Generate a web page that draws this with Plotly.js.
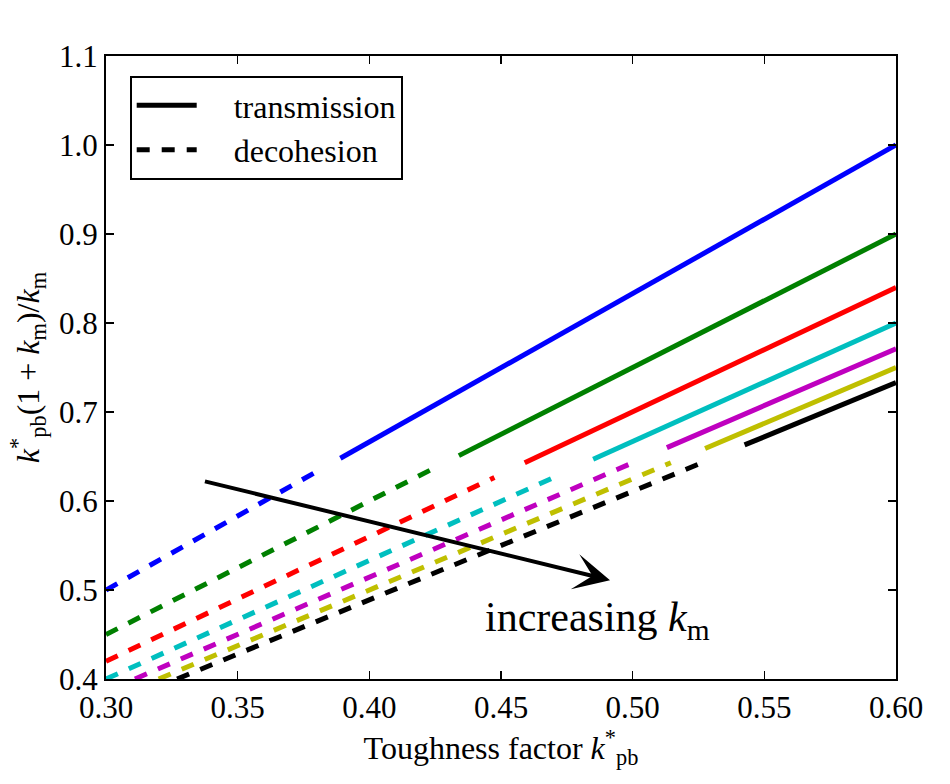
<!DOCTYPE html>
<html>
<head>
<meta charset="utf-8">
<script src="https://cdn.plot.ly/plotly-3.0.1.min.js"></script>
<style>
  html, body { margin: 0; padding: 0; background: #ffffff; }
  #chart { width: 950px; height: 784px; }
</style>
</head>
<body>
<div id="chart"></div>
<script>
// Matrix stiffness ratios, one curve each (classic b, g, r, c, m, y, k palette)
const kmValues   = [1.5, 2.0, 2.5, 3.0, 3.5, 4.0, 4.5];
const lineColors = ['#0000ff', '#008000', '#ff0000', '#00bfbf', '#bf00bf', '#bfbf00', '#000000'];

// Decohesion branch (dashed): start and end points of each curve
const decohesionX0 = [0.300, 0.300, 0.300, 0.300, 0.311, 0.320, 0.327];
const decohesionY0 = [0.500, 0.450, 0.420, 0.400, 0.400, 0.400, 0.400];
const decohesionX1 = [0.380, 0.425, 0.4475, 0.472, 0.500, 0.5145, 0.528];
const decohesionY1 = [0.633, 0.6375, 0.6265, 0.629, 0.643, 0.643, 0.645];

// Transmission branch (solid): start and end points of each curve
const transmissionX0 = [0.389, 0.434, 0.459, 0.485, 0.513, 0.5275, 0.5425];
const transmissionY0 = [0.648, 0.651, 0.643, 0.647, 0.660, 0.659, 0.663];
const transmissionX1 = [0.600, 0.600, 0.600, 0.600, 0.600, 0.600, 0.600];
const transmissionY1 = [1.000, 0.900, 0.840, 0.800, 0.771, 0.750, 0.733];

// Axis ticks
const xTickVals = [0.30, 0.35, 0.40, 0.45, 0.50, 0.55, 0.60];
const xTickText = ['0.30', '0.35', '0.40', '0.45', '0.50', '0.55', '0.60'];
const yTickVals = [0.4, 0.5, 0.6, 0.7, 0.8, 0.9, 1.0, 1.1];
const yTickText = ['0.4', '0.5', '0.6', '0.7', '0.8', '0.9', '1.0', '1.1'];

// Legend entries
const legendNames  = ['transmission', 'decohesion'];
const legendDashes = ['solid', '13px,12px'];

// Arrow showing the trend with k_m
const arrowTail = [0.337, 0.6225];
const arrowHead = [0.4914, 0.511];
const trendLabel = 'increasing <i>k</i><sub>m</sub>';
const trendLabelPos = [0.4868, 0.466];

const FONT = 'Liberation Serif, Times New Roman, serif';
const LW = 5;
const DASH = '13px,12px';
const PAD = '\u00a0\u00a0\u00a0\u00a0';

const traces = [];
kmValues.forEach((km, i) => {
  traces.push({
    x: [decohesionX0[i], decohesionX1[i]],
    y: [decohesionY0[i], decohesionY1[i]],
    mode: 'lines',
    line: { color: lineColors[i], width: LW, dash: DASH },
    showlegend: false,
    hoverinfo: 'skip'
  });
  traces.push({
    x: [transmissionX0[i], transmissionX1[i]],
    y: [transmissionY0[i], transmissionY1[i]],
    mode: 'lines',
    line: { color: lineColors[i], width: LW },
    showlegend: false,
    hoverinfo: 'skip'
  });
});

// Black legend-only entries
legendNames.forEach((name, i) => {
  traces.push({
    x: [null], y: [null],
    mode: 'lines',
    name: PAD + name,
    line: { color: '#000000', width: LW, dash: legendDashes[i] },
    showlegend: true
  });
});

const axisCommon = {
  showline: true,
  linecolor: '#000000',
  linewidth: 2,
  mirror: 'allticks',
  ticks: 'inside',
  ticklen: 8,
  tickwidth: 1.2,
  tickcolor: '#000000',
  showgrid: false,
  zeroline: false,
  tickfont: { family: FONT, size: 31, color: '#000000' },
  tickmode: 'array'
};

const layout = {
  width: 950,
  height: 784,
  margin: { l: 106, r: 54, t: 56, b: 105 },
  paper_bgcolor: '#ffffff',
  plot_bgcolor: '#ffffff',
  font: { family: FONT, color: '#000000' },
  xaxis: Object.assign({}, axisCommon, {
    range: [0.30, 0.60],
    tickvals: xTickVals,
    ticktext: xTickText,
    title: {
      text: 'Toughness factor <i>k</i><sup>*</sup><sub>pb</sub>',
      font: { family: FONT, size: 32, color: '#000000' },
      standoff: 4
    }
  }),
  yaxis: Object.assign({}, axisCommon, {
    range: [0.4, 1.1],
    tickvals: yTickVals,
    ticktext: yTickText,
    title: {
      text: '<i>k</i><sup>*</sup><sub>pb</sub>(1 + <i>k</i><sub>m</sub>)/<i>k</i><sub>m</sub>',
      font: { family: FONT, size: 32, color: '#000000' },
      standoff: 10
    }
  }),
  showlegend: true,
  legend: {
    x: 0.03,
    y: 0.968,
    xanchor: 'left',
    yanchor: 'top',
    bgcolor: '#ffffff',
    bordercolor: '#000000',
    borderwidth: 2,
    font: { family: FONT, size: 32, color: '#000000' },
    itemwidth: 60,
    tracegroupgap: 0
  },
  annotations: [
    {
      x: arrowHead[0], y: arrowHead[1],
      ax: arrowTail[0], ay: arrowTail[1],
      xref: 'x', yref: 'y', axref: 'x', ayref: 'y',
      text: '',
      showarrow: true,
      arrowhead: 3,
      arrowsize: 1.5,
      arrowwidth: 4,
      arrowcolor: '#000000'
    },
    {
      x: trendLabelPos[0], y: trendLabelPos[1],
      xref: 'x', yref: 'y',
      text: trendLabel,
      showarrow: false,
      font: { family: FONT, size: 42, color: '#000000' }
    }
  ]
};

Plotly.newPlot('chart', traces, layout, { displayModeBar: false, staticPlot: true });
</script>
</body>
</html>
